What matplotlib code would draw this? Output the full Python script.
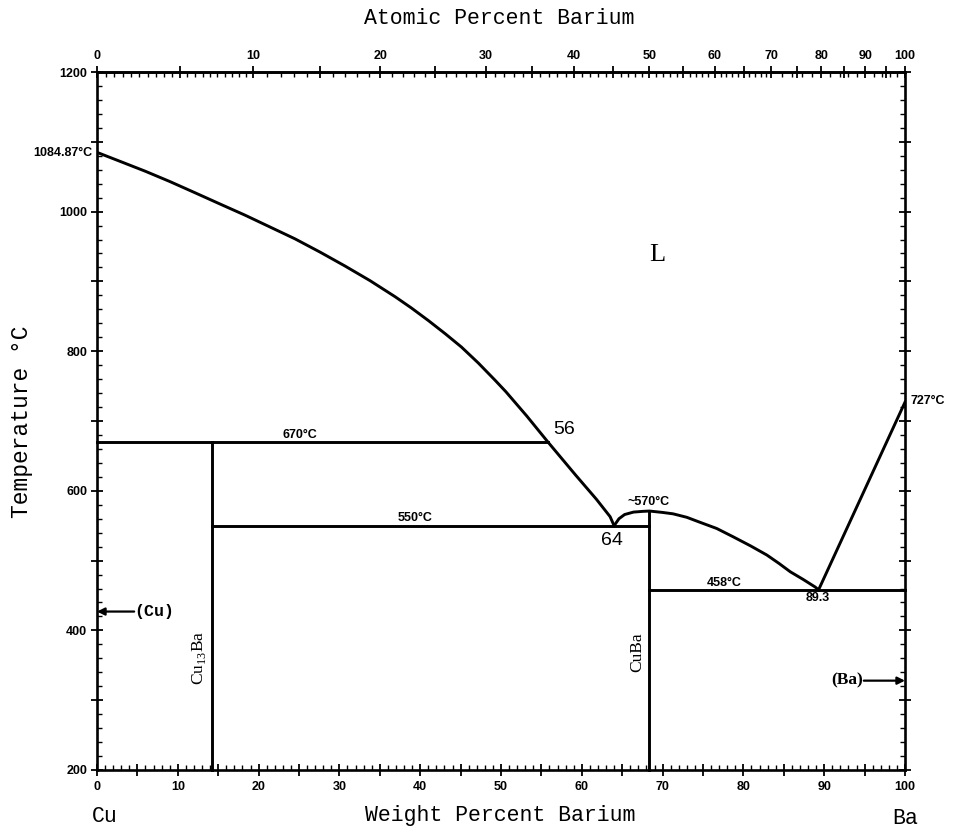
import numpy as np
import matplotlib
matplotlib.use("Agg")
import matplotlib.pyplot as plt
from matplotlib.ticker import FixedLocator, FuncFormatter
from matplotlib.font_manager import FontProperties

# ---------------- data ----------------
M_CU, M_BA = 63.546, 137.327

liq_cu_wt = [0, 2.85, 5.94, 9.03, 12.13, 15.2, 18.3, 21.4, 24.5, 27.6, 30.7, 33.8,
             36.9, 38.9, 41.0, 43.1, 45.1, 47.2, 49.3, 50.6, 53.2, 55.8, 59.2, 61.8, 63.5, 64.0]
liq_cu_T = [1084.87, 1072, 1058, 1043, 1027, 1011, 995, 978, 961, 942, 922, 901,
            878, 862, 844, 825, 806, 783, 758, 742, 707, 670, 623, 588, 563, 550]

dome_wt = [64.0, 64.6, 65.3, 66.4, 67.5, 68.37, 70.0, 71.3, 73.0, 74.6, 76.7, 78.75,
           80.9, 82.9, 84.4, 85.8, 87.4, 88.9, 89.3]
dome_T = [550, 560, 566, 569.5, 570.5, 571, 569, 567, 562, 555, 546, 534,
          521, 508, 496, 484, 473, 462, 458]

liq_ba_wt = [89.3, 100]
liq_ba_T = [458, 727]

# horizontal invariant lines
iso_x0 = [0, 14.25, 68.37]
iso_x1 = [55.8, 68.37, 100]
iso_T = [670, 550, 458]

# compound lines
comp_x = [14.25, 68.37]
comp_top = [670, 571]

wt_ticks = list(range(0, 101, 10))
at_ticks = list(range(0, 101, 10))
T_ticks = list(range(200, 1201, 200))


def wt2at(w):
    w = np.clip(np.asarray(w, dtype=float), 0, 100)
    a = w / M_BA
    b = (100 - w) / M_CU
    with np.errstate(divide="ignore", invalid="ignore"):
        r = np.where(a + b > 0, a / (a + b) * 100, 0)
    return r


def at2wt(at):
    at = np.clip(np.asarray(at, dtype=float), 0, 100)
    a = at * M_BA
    b = (100 - at) * M_CU
    with np.errstate(divide="ignore", invalid="ignore"):
        r = np.where(a + b > 0, a / (a + b) * 100, 0)
    return r


W, H = 957, 833
fig = plt.figure(figsize=(W / 100, H / 100), dpi=100)
ax = fig.add_axes([97 / W, 1 - 770 / H, (905 - 97) / W, (770 - 72) / H])

LW = 2.1
tick_font = dict(family=["Liberation Sans Narrow", "Liberation Sans", "DejaVu Sans"], weight="bold", size=9)
label_font = dict(family=["Liberation Mono", "DejaVu Sans Mono"], size=15.5)

# curves
ax.plot(liq_cu_wt, liq_cu_T, color="k", lw=LW, solid_joinstyle="round")
ax.plot(dome_wt, dome_T, color="k", lw=LW, solid_joinstyle="round")
ax.plot(liq_ba_wt, liq_ba_T, color="k", lw=LW)
for x0, x1, t in zip(iso_x0, iso_x1, iso_T):
    ax.plot([x0, x1], [t, t], color="k", lw=LW, clip_on=False)
for x, t in zip(comp_x, comp_top):
    ax.plot([x, x], [200, t], color="k", lw=LW, clip_on=False)

ax.set_xlim(0, 100)
ax.set_ylim(200, 1200)

for s in ax.spines.values():
    s.set_linewidth(1.9)

# bottom axis ticks
ax.xaxis.set_major_locator(FixedLocator(np.arange(0, 101, 5)))
ax.xaxis.set_minor_locator(FixedLocator(np.arange(0, 101, 1)))
ax.xaxis.set_major_formatter(FuncFormatter(lambda v, p: f"{int(round(v))}" if int(round(v)) in wt_ticks else ""))
ax.tick_params(axis="x", which="major", direction="inout", length=8, width=1.3, pad=4, top=False)
ax.tick_params(axis="x", which="minor", direction="in", length=3.5, width=1.0, top=False)

# left/right axis ticks
ax.yaxis.set_major_locator(FixedLocator(np.arange(200, 1201, 100)))
ax.yaxis.set_minor_locator(FixedLocator(np.arange(200, 1201, 20)))
ax.yaxis.set_major_formatter(FuncFormatter(lambda v, p: f"{int(round(v))}" if int(round(v)) in T_ticks else ""))
ax.tick_params(axis="y", which="major", direction="inout", length=8, width=1.3, pad=3, right=True)
ax.tick_params(axis="y", which="minor", direction="in", length=3.5, width=1.0, right=True)

for lab in ax.get_xticklabels() + ax.get_yticklabels():
    lab.set_fontproperties(FontProperties(**tick_font))

# top axis: atomic percent
sec = ax.secondary_xaxis("top", functions=(wt2at, at2wt))
sec.xaxis.set_major_locator(FixedLocator(np.arange(0, 101, 5)))
minor_at = np.concatenate([np.arange(0, 10, 0.5), np.arange(10, 70, 1), np.arange(70, 100.1, 2)])
sec.xaxis.set_minor_locator(FixedLocator(minor_at))
sec.xaxis.set_major_formatter(FuncFormatter(lambda v, p: f"{int(round(v))}" if int(round(v)) in at_ticks else ""))
sec.tick_params(axis="x", which="major", direction="inout", length=8, width=1.3, pad=3)
sec.tick_params(axis="x", which="minor", direction="in", length=3.5, width=1.0)
sec.spines["top"].set_linewidth(1.9)
for lab in sec.get_xticklabels():
    lab.set_fontproperties(FontProperties(**tick_font))

# axis titles
fig.text(499 / W, 1 - 19 / H, "Atomic Percent Barium", ha="center", va="center", **label_font)
fig.text(500 / W, 1 - 815 / H, "Weight Percent Barium", ha="center", va="center", **label_font)
fig.text(105 / W, 1 - 817 / H, "Cu", ha="center", va="center", **label_font)
fig.text(905 / W, 1 - 818 / H, "Ba", ha="center", va="center", **label_font)
fig.text(22 / W, 1 - 422 / H, "Temperature °C", ha="center", va="center", rotation=90,
         family=["Liberation Mono", "DejaVu Sans Mono"], size=16.5)

# annotations
small_bold = dict(family=["Liberation Sans Narrow", "Liberation Sans", "DejaVu Sans"], weight="bold", size=9)
ax.text(-0.6, 1084, "1084.87°C", ha="right", va="center", clip_on=False, **small_bold)
ax.text(100.7, 728, "727°C", ha="left", va="center", clip_on=False, **small_bold)
ax.text(25.1, 672, "670°C", ha="center", va="bottom", **small_bold)
ax.text(39.4, 552, "550°C", ha="center", va="bottom", **small_bold)
ax.text(68.3, 575, "~570°C", ha="center", va="bottom", **small_bold)
ax.text(77.6, 460, "458°C", ha="center", va="bottom", **small_bold)
ax.text(89.2, 455, "89.3", ha="center", va="top", **small_bold)

arial = dict(family=["Liberation Sans", "DejaVu Sans"], size=14)
ax.text(57.8, 688, "56", ha="center", va="center", **arial)
ax.text(63.7, 529, "64", ha="center", va="center", **arial)

ax.text(69.4, 938, "L", ha="center", va="center", family=["Liberation Serif", "DejaVu Serif"], size=19)

serif = dict(family=["Liberation Serif", "DejaVu Serif"], size=12.5)
ax.text(13.7, 360, "Cu$_{\\mathregular{13}}$Ba", ha="right", va="center", rotation=90, **serif)
ax.text(67.8, 369, "CuBa", ha="right", va="center", rotation=90, **serif)

ax.annotate("", xy=(0, 427), xytext=(4.6, 427),
            arrowprops=dict(arrowstyle="-|>", lw=1.6, color="k", mutation_scale=11, shrinkA=0, shrinkB=0))
ax.text(4.6, 427, "(Cu)", ha="left", va="center", family=["Liberation Mono", "DejaVu Sans Mono"], size=12, weight="bold")
ax.annotate("", xy=(100, 328), xytext=(94.9, 328),
            arrowprops=dict(arrowstyle="-|>", lw=1.6, color="k", mutation_scale=11, shrinkA=0, shrinkB=0))
ax.text(94.8, 328, "(Ba)", ha="right", va="center", family=["Liberation Serif", "DejaVu Serif"], size=12.5, weight="bold")

fig.savefig("out.png", dpi=100, facecolor="white")
